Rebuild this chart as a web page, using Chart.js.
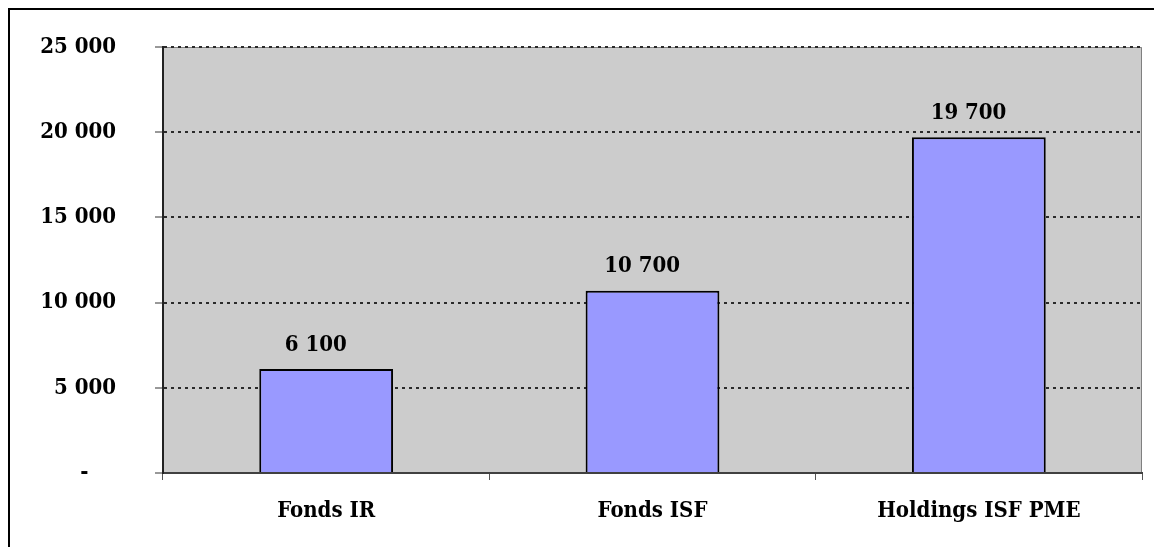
<!DOCTYPE html>
<html>
<head>
<meta charset="utf-8">
<script src="https://cdn.jsdelivr.net/npm/chart.js@4"></script>
<style>
  body { margin: 0; background: #fff; }
  canvas { display: block; }
</style>
</head>
<body>
<canvas id="fondsChart" width="1154" height="547"></canvas>
<script>
const categories = ["Fonds IR", "Fonds ISF", "Holdings ISF PME"];
const montants = [6100, 10700, 19700];
const yTicks = [0, 5000, 10000, 15000, 20000, 25000];

const police = "'DejaVu Serif Condensed', 'DejaVu Serif', serif";

function formatNombre(v) {
  if (v === 0) return "-\u00a0\u00a0\u00a0\u00a0";
  return String(v).replace(/\B(?=(\d{3})+(?!\d))/g, "\u00a0");
}

// fond gris de la zone de tracé + cadre extérieur
const fondPlugin = {
  id: "fond",
  beforeDraw(chart) {
    const { ctx, chartArea: a } = chart;
    ctx.save();
    ctx.fillStyle = "#fff";
    ctx.fillRect(0, 0, chart.width, chart.height);
    ctx.fillStyle = "#cccccc";
    ctx.fillRect(a.left, a.top, a.right - a.left, a.bottom - a.top);
    ctx.strokeStyle = "#808080";
    ctx.lineWidth = 1;
    ctx.beginPath();
    ctx.moveTo(a.left, a.top + 0.5);
    ctx.lineTo(a.right - 0.5, a.top + 0.5);
    ctx.lineTo(a.right - 0.5, a.bottom);
    ctx.stroke();
    ctx.strokeStyle = "#000";
    ctx.lineWidth = 2;
    ctx.beginPath();
    ctx.moveTo(chart.width, 9);
    ctx.lineTo(9, 9);
    ctx.lineTo(9, chart.height);
    ctx.stroke();
    ctx.restore();
  },
};

// valeurs au-dessus des barres (format comptable : espace de fin)
const etiquettesPlugin = {
  id: "etiquettes",
  afterDatasetsDraw(chart) {
    const { ctx } = chart;
    const meta = chart.getDatasetMeta(0);
    ctx.save();
    ctx.font = "bold 22px " + police;
    ctx.fillStyle = "#000";
    ctx.textAlign = "center";
    ctx.textBaseline = "middle";
    meta.data.forEach((bar, i) => {
      const txt = formatNombre(montants[i]) + "\u00a0\u00a0\u00a0";
      ctx.fillText(txt, bar.x, bar.y - 24);
    });
    ctx.restore();
  },
};

const ctx = document.getElementById("fondsChart").getContext("2d");

new Chart(ctx, {
  type: "bar",
  data: {
    labels: categories,
    datasets: [
      {
        data: montants,
        backgroundColor: "#9999ff",
        borderColor: "#000",
        borderWidth: 2,
        barPercentage: 0.41,
        categoryPercentage: 1,
      },
    ],
  },
  options: {
    responsive: false,
    animation: false,
    layout: { padding: { top: 47, right: 12, left: 0, bottom: 0 } },
    plugins: {
      legend: { display: false },
      tooltip: { enabled: false },
    },
    scales: {
      x: {
        grid: {
          offset: true,
          drawOnChartArea: false,
          tickLength: 7,
          tickColor: "#555",
          tickWidth: 1,
        },
        border: { color: "#404040", width: 2 },
        ticks: {
          color: "#000",
          padding: 18,
          font: { family: police, size: 22, weight: "bold" },
        },
        afterFit(scale) {
          scale.height = 74;
        },
      },
      y: {
        min: 0,
        max: 25000,
        afterBuildTicks(scale) {
          scale.ticks = yTicks.map((v) => ({ value: v }));
        },
        grid: {
          color: "#2a2a2a",
          lineWidth: 2,
          tickLength: 8,
          tickColor: "#333",
          tickWidth: 1,
        },
        border: { color: "#222", width: 2, dash: [3, 4] },
        ticks: {
          color: "#000",
          padding: 39,
          font: { family: police, size: 22, weight: "bold" },
          callback: (v) => formatNombre(v),
        },
        afterFit(scale) {
          scale.width = 163;
          scale.paddingTop = 0;
          scale.paddingBottom = 0;
        },
      },
    },
  },
  plugins: [fondPlugin, etiquettesPlugin],
});
</script>
</body>
</html>
